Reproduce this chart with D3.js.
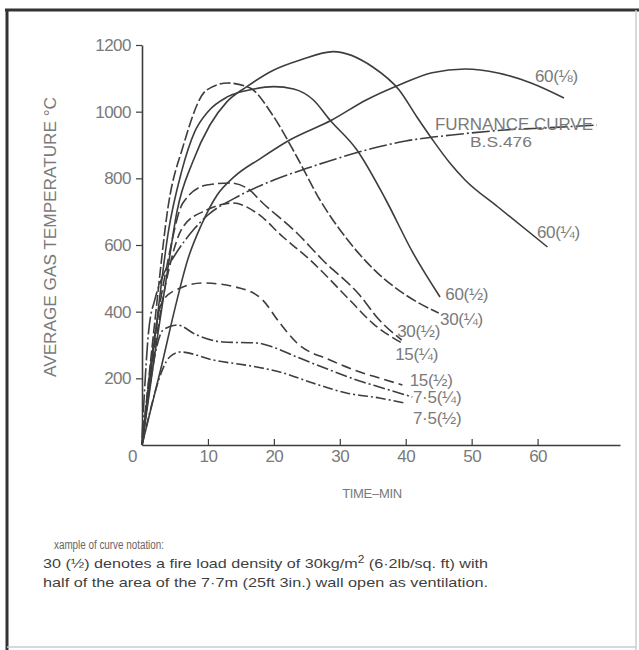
<!DOCTYPE html>
<html>
<head>
<meta charset="utf-8">
<script src="https://cdn.jsdelivr.net/npm/d3@7"></script>
<style>
  body { margin: 0; background: #fff; }
  svg { display: block; font-family: "Liberation Sans", Arial, sans-serif; }
</style>
</head>
<body>
<div id="chart"></div>
<script>
// Fire curves: average gas temperature vs time
// each series is [time (min), temperature (°C)]
const curve60_8 = [[0,0],[3,240],[5,410],[7,560],[9,660],[11.4,750],[14,805],[18,860],[22.4,915],[28.8,975],[34,1035],[39,1080],[44,1117],[49,1128],[54,1116],[59,1086],[64,1041]];
const curve60_4 = [[0,0],[2,280],[4,540],[5.3,700],[7.7,850],[10.3,960],[12.9,1030],[15.9,1075],[20,1125],[24,1155],[29,1180],[35,1134],[39,1065],[41.7,984],[44.1,915],[46.7,846],[49,795],[54,714],[61.5,594]];
const curve60_2 = [[0,0],[2,330],[4,640],[6,820],[8,940],[10,1000],[13,1045],[17,1068],[20,1075],[23,1068],[26,1035],[28.5,975],[32.6,885],[37,735],[41,580],[45.2,444]];
const curve30_4 = [[0,0],[2,380],[4,720],[6.2,894],[9.8,1065],[13,1086],[16.4,1071],[19.8,990],[23.5,864],[27,735],[31,620],[35,530],[40,450],[45,396]];
const curve30_2 = [[0,0],[2,330],[4,560],[6.2,726],[9.8,780],[13.3,786],[15.9,771],[18.3,726],[23.5,636],[27.4,555],[33,450],[36,375],[39.4,315]];
const curve15_4 = [[0,0],[2,300],[4,520],[6.2,654],[9.8,705],[13.8,726],[17.4,696],[21.4,624],[25.5,555],[31.5,435],[35,365],[39.4,306]];
const curve15_2 = [[0,0],[3.2,435],[6.2,474],[9.2,486],[14.8,471],[18.3,435],[20.9,366],[23.5,306],[28.5,255],[33.5,216],[36,201],[39.5,180]];
const curve7_5_4 = [[0,0],[3.2,345],[5.3,360],[8.3,330],[12.3,309],[17.4,306],[19.8,294],[23.5,264],[28.5,225],[33.5,189],[36,174],[41,144]];
const curve7_5_2 = [[0,0],[4.2,264],[5.8,279],[10.8,255],[17.4,234],[20.9,219],[25.9,186],[31,156],[36,141],[39.8,126]];
const furnace = [[0,20],[1,340],[2,440],[3,500],[5,570],[8,650],[10,690],[14,740],[20,795],[25,830],[30,862],[35,890],[40,912],[47,930],[55,945],[62,952],[69,960]];

const xTicks = [0, 10, 20, 30, 40, 50, 60];
const yTicks = [200, 400, 600, 800, 1000, 1200];

const series = [
  {data: curve60_8, dash: null},
  {data: curve60_4, dash: null},
  {data: curve60_2, dash: null},
  {data: curve30_4, dash: '11,3'},
  {data: curve30_2, dash: '12,4'},
  {data: curve15_4, dash: '10,4'},
  {data: curve15_2, dash: '10,5'},
  {data: curve7_5_4, dash: '12,3,2,3'},
  {data: curve7_5_2, dash: '10,3,2,3'},
  {data: furnace, dash: '18,3,2,3'}
];

// curve labels, anchored at their left edge / baseline
const labels = [
  {text: '60(⅛)', x: 59.6, y: 1089},
  {text: '60(¼)', x: 59.9, y: 621},
  {text: '60(½)', x: 46.0, y: 435},
  {text: '30(¼)', x: 45.2, y: 360},
  {text: '30(½)', x: 38.7, y: 324},
  {text: '15(¼)', x: 38.4, y: 255},
  {text: '15(½)', x: 40.6, y: 177},
  {text: '7·5(¼)', x: 41.1, y: 126},
  {text: '7·5(½)', x: 41.1, y: 63}
];

const width = 639, height = 650;
const svg = d3.select('#chart').append('svg')
  .attr('width', width)
  .attr('height', height);

// frame
svg.append('line').attr('x1', 5).attr('x2', 639).attr('y1', 10).attr('y2', 10)
  .attr('stroke', '#333').attr('stroke-width', 3);
svg.append('line').attr('x1', 7).attr('x2', 7).attr('y1', 9).attr('y2', 650)
  .attr('stroke', '#333').attr('stroke-width', 3);
svg.append('line').attr('x1', 636).attr('x2', 636).attr('y1', 10).attr('y2', 650)
  .attr('stroke', '#ccc').attr('stroke-width', 1.5);
svg.append('line').attr('x1', 7).attr('x2', 636).attr('y1', 647).attr('y2', 647)
  .attr('stroke', '#ccc').attr('stroke-width', 1.5);

const x = d3.scaleLinear().domain([0, 72.5]).range([142, 620]);
const y = d3.scaleLinear().domain([0, 1200]).range([445, 45]);

const ink = '#3d3d3d';
const grey = '#7a7a7a';

// axes
const xAxis = svg.append('g')
  .attr('transform', `translate(0,${y(0)})`)
  .call(d3.axisBottom(x).tickValues(xTicks).tickFormat(d3.format('d'))
    .tickSize(-6).tickSizeOuter(0).tickPadding(5));
const yAxis = svg.append('g')
  .attr('transform', `translate(${x(0)},0)`)
  .call(d3.axisLeft(y).tickValues(yTicks).tickFormat(d3.format('d'))
    .tickSize(6).tickSizeOuter(0).tickPadding(5));

[xAxis, yAxis].forEach(g => {
  g.select('.domain').attr('stroke', ink).attr('stroke-width', 1.6);
  g.selectAll('.tick line').attr('stroke', ink).attr('stroke-width', 1.2);
  g.selectAll('.tick text')
    .attr('fill', grey)
    .style('font-size', '17px')
    .style('letter-spacing', '-0.5px');
});
xAxis.selectAll('.tick').filter(d => d === 0).select('line').remove();
xAxis.selectAll('.tick').filter(d => d === 0).select('text').attr('dx', -10);

svg.append('text')
  .attr('transform', 'translate(56,237) rotate(-90)')
  .attr('text-anchor', 'middle')
  .attr('fill', grey)
  .attr('textLength', 280)
  .attr('lengthAdjust', 'spacingAndGlyphs')
  .style('font-size', '16px')
  .text('AVERAGE GAS TEMPERATURE °C');

svg.append('text')
  .attr('x', 372).attr('y', 498)
  .attr('text-anchor', 'middle')
  .attr('fill', grey)
  .style('font-size', '13px')
  .style('letter-spacing', '-0.3px')
  .text('TIME–MIN');

// curves
const line = d3.line()
  .x(d => x(d[0]))
  .y(d => y(d[1]))
  .curve(d3.curveMonotoneX);

svg.append('g')
  .attr('fill', 'none')
  .attr('stroke', ink)
  .attr('stroke-width', 1.6)
  .selectAll('path')
  .data(series)
  .join('path')
  .attr('stroke-dasharray', d => d.dash)
  .attr('d', d => line(d.data));

// curve labels
svg.append('g')
  .selectAll('text')
  .data(labels)
  .join('text')
  .attr('x', d => x(d.x))
  .attr('y', d => y(d.y))
  .attr('fill', grey)
  .style('font-size', '17px')
  .style('letter-spacing', '-0.3px')
  .text(d => d.text);

svg.append('text')
  .attr('x', 435).attr('y', 130)
  .attr('fill', grey)
  .attr('textLength', 158)
  .attr('lengthAdjust', 'spacingAndGlyphs')
  .style('font-size', '16px')
  .text('FURNANCE CURVE');
svg.append('text')
  .attr('x', 470).attr('y', 147)
  .attr('fill', grey)
  .attr('textLength', 62)
  .attr('lengthAdjust', 'spacingAndGlyphs')
  .style('font-size', '15px')
  .text('B.S.476');

// caption
const caption = svg.append('g').attr('fill', '#3f3f3f').style('font-size', '13.5px');
caption.append('text').attr('x', 54).attr('y', 549).attr('fill', '#666')
  .style('font-size', '12px')
  .attr('textLength', 110).attr('lengthAdjust', 'spacingAndGlyphs')
  .text('xample of curve notation:');
caption.append('text').attr('x', 43).attr('y', 568)
  .attr('textLength', 445).attr('lengthAdjust', 'spacingAndGlyphs')
  .html('30 (½) denotes a fire load density of 30kg/m<tspan dy="-5" font-size="10">2</tspan><tspan dy="5"> (6·2lb/sq. ft) with</tspan>');
caption.append('text').attr('x', 43).attr('y', 587)
  .attr('textLength', 445).attr('lengthAdjust', 'spacingAndGlyphs')
  .text('half of the area of the 7·7m (25ft 3in.) wall open as ventilation.');
</script>
</body>
</html>
